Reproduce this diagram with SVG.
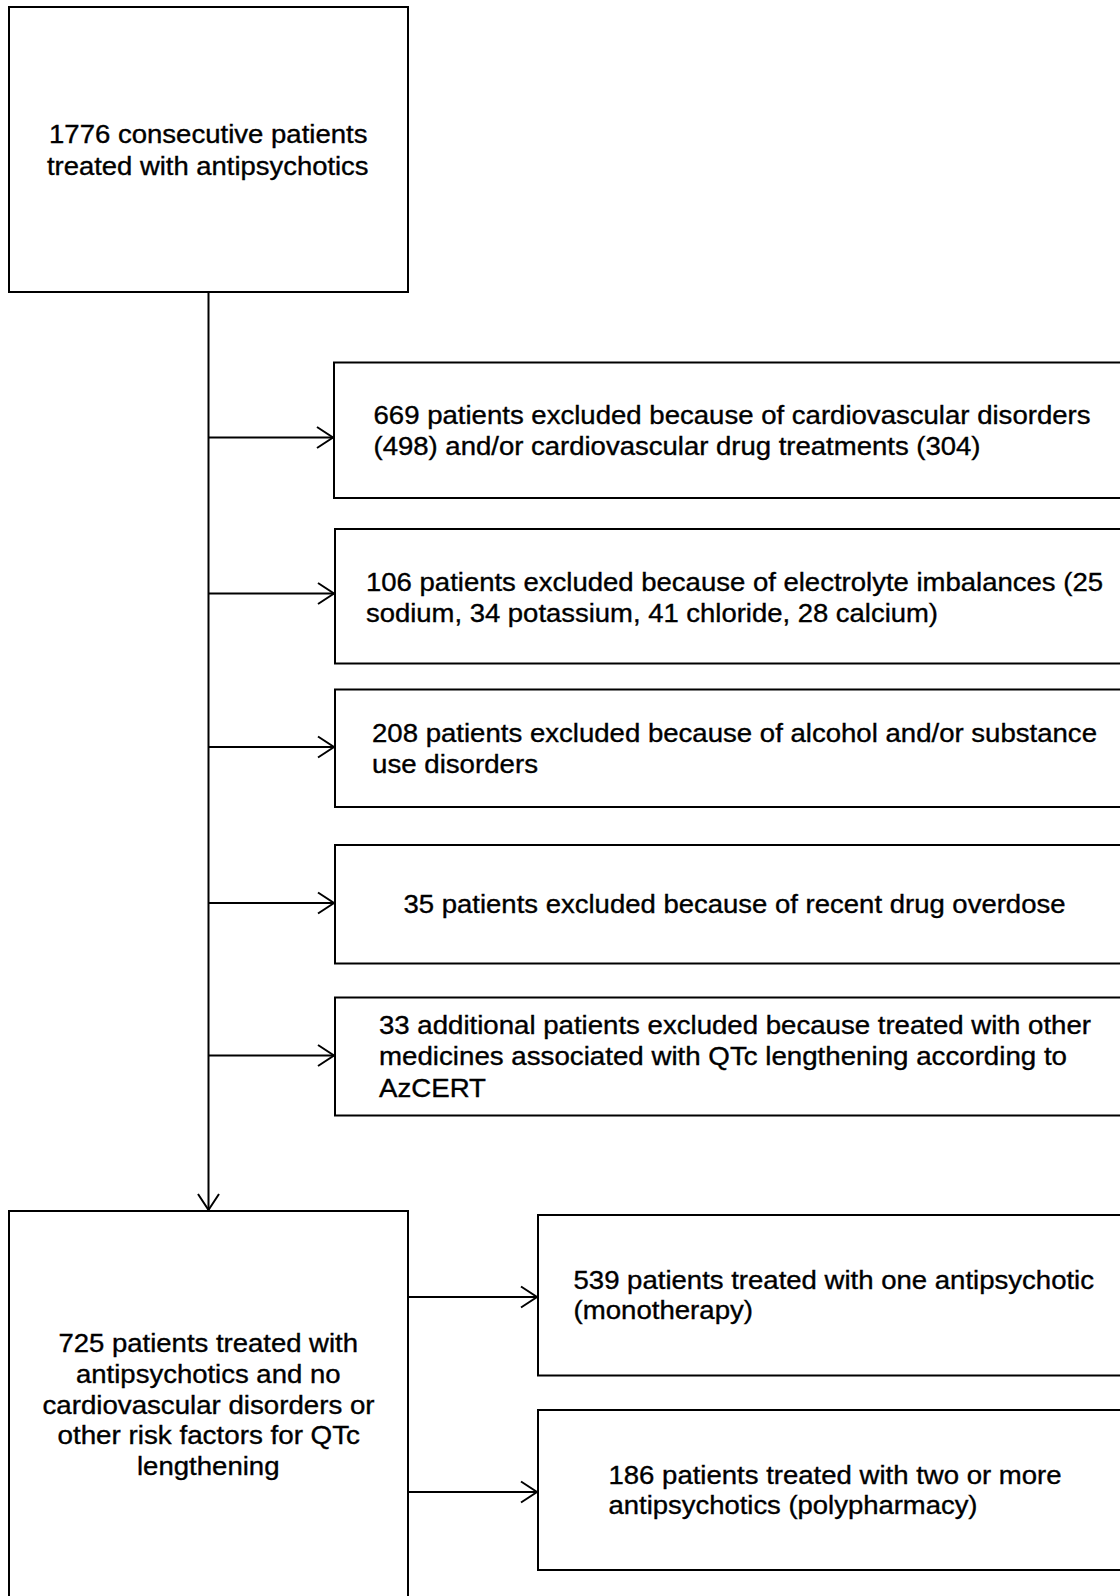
<svg xmlns="http://www.w3.org/2000/svg" width="1120" height="1596" viewBox="0 0 1120 1596">
<style>
rect.box{fill:#fff;stroke:#000;stroke-width:2}
text{font-family:"Liberation Sans",Arial,sans-serif;font-size:25px;fill:#000;stroke:#000;stroke-width:0.35}
.conn line,.conn path{stroke:#000;stroke-width:2;fill:none}
</style>
<defs>
<marker id="arr" markerUnits="userSpaceOnUse" viewBox="-18 -12 20 24" markerWidth="20" markerHeight="24" refX="0" refY="0" orient="auto">
<path d="M-16,-10.5 L0,0 L-16,10.5" fill="none" stroke="#000" stroke-width="2"/>
</marker>
</defs>
<rect width="1120" height="1596" fill="#fff"/>
<g class="conn">
<line x1="208.5" y1="292" x2="208.5" y2="1210" marker-end="url(#arr)"/>
<line x1="208.5" y1="437.5" x2="333" y2="437.5" marker-end="url(#arr)"/>
<line x1="208.5" y1="593.5" x2="334" y2="593.5" marker-end="url(#arr)"/>
<line x1="208.5" y1="747" x2="334" y2="747" marker-end="url(#arr)"/>
<line x1="208.5" y1="903" x2="334" y2="903" marker-end="url(#arr)"/>
<line x1="208.5" y1="1055.5" x2="334" y2="1055.5" marker-end="url(#arr)"/>
<line x1="409" y1="1297" x2="537" y2="1297" marker-end="url(#arr)"/>
<line x1="409" y1="1492" x2="537" y2="1492" marker-end="url(#arr)"/>
</g>
<g id="start">
<rect class="box" x="9" y="7" width="399" height="285"/>
<text x="49" y="143" textLength="318.5" lengthAdjust="spacingAndGlyphs">1776 consecutive patients</text>
<text x="47" y="174.5" textLength="321.5" lengthAdjust="spacingAndGlyphs">treated with antipsychotics</text>
</g>
<g id="excl1">
<rect class="box" x="334" y="362.5" width="800" height="135.5"/>
<text x="373.5" y="423.5" textLength="717" lengthAdjust="spacingAndGlyphs">669 patients excluded because of cardiovascular disorders</text>
<text x="373.5" y="455" textLength="607" lengthAdjust="spacingAndGlyphs">(498) and/or cardiovascular drug treatments (304)</text>
</g>
<g id="excl2">
<rect class="box" x="335" y="529" width="800" height="134.5"/>
<text x="366" y="590.5" textLength="737" lengthAdjust="spacingAndGlyphs">106 patients excluded because of electrolyte imbalances (25</text>
<text x="366" y="621.5" textLength="572" lengthAdjust="spacingAndGlyphs">sodium, 34 potassium, 41 chloride, 28 calcium)</text>
</g>
<g id="excl3">
<rect class="box" x="335" y="689.5" width="800" height="117.5"/>
<text x="372" y="742" textLength="725" lengthAdjust="spacingAndGlyphs">208 patients excluded because of alcohol and/or substance</text>
<text x="372" y="772.5" textLength="166" lengthAdjust="spacingAndGlyphs">use disorders</text>
</g>
<g id="excl4">
<rect class="box" x="335" y="845" width="800" height="118.5"/>
<text x="403.5" y="912.5" textLength="662" lengthAdjust="spacingAndGlyphs">35 patients excluded because of recent drug overdose</text>
</g>
<g id="excl5">
<rect class="box" x="335" y="997.5" width="800" height="118"/>
<text x="379" y="1034" textLength="712" lengthAdjust="spacingAndGlyphs">33 additional patients excluded because treated with other</text>
<text x="379" y="1065" textLength="688" lengthAdjust="spacingAndGlyphs">medicines associated with QTc lengthening according to</text>
<text x="379" y="1096.5" textLength="107" lengthAdjust="spacingAndGlyphs">AzCERT</text>
</g>
<g id="included">
<rect class="box" x="9" y="1211" width="399" height="400"/>
<text x="58.5" y="1352" textLength="299.5" lengthAdjust="spacingAndGlyphs">725 patients treated with</text>
<text x="76" y="1383" textLength="264.5" lengthAdjust="spacingAndGlyphs">antipsychotics and no</text>
<text x="42.5" y="1413.5" textLength="332" lengthAdjust="spacingAndGlyphs">cardiovascular disorders or</text>
<text x="57.5" y="1444" textLength="302.5" lengthAdjust="spacingAndGlyphs">other risk factors for QTc</text>
<text x="137" y="1475" textLength="142.5" lengthAdjust="spacingAndGlyphs">lengthening</text>
</g>
<g id="mono">
<rect class="box" x="538" y="1215" width="600" height="160.5"/>
<text x="573.5" y="1288.5" textLength="520.5" lengthAdjust="spacingAndGlyphs">539 patients treated with one antipsychotic</text>
<text x="573.5" y="1319" textLength="179.5" lengthAdjust="spacingAndGlyphs">(monotherapy)</text>
</g>
<g id="poly">
<rect class="box" x="538" y="1410" width="600" height="160"/>
<text x="608.5" y="1483.5" textLength="453" lengthAdjust="spacingAndGlyphs">186 patients treated with two or more</text>
<text x="608.5" y="1514" textLength="369" lengthAdjust="spacingAndGlyphs">antipsychotics (polypharmacy)</text>
</g>
</svg>
